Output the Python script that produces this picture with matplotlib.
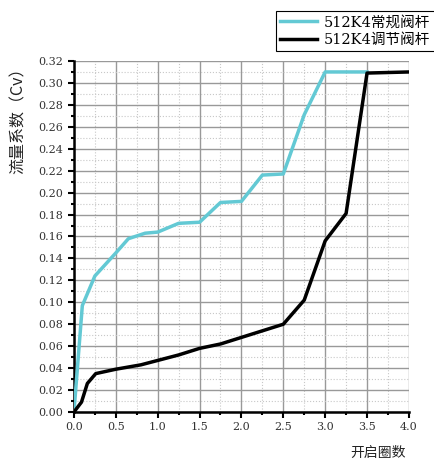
import matplotlib
matplotlib.use("Agg")
import matplotlib.pyplot as plt
from matplotlib.ticker import MultipleLocator, FormatStrFormatter

plt.rcParams['font.family'] = ['DejaVu Serif', 'Noto Sans CJK SC']

x_regular = [0.0, 0.1, 0.25, 0.5, 0.65, 0.85, 1.0, 1.25, 1.5, 1.75, 2.0, 2.25, 2.5, 2.75, 3.0, 3.5]
y_regular = [0.0, 0.097, 0.124, 0.145, 0.158, 0.163, 0.164, 0.172, 0.173, 0.191, 0.192, 0.216, 0.217, 0.271, 0.310, 0.310]

x_adjust = [0.0, 0.09, 0.16, 0.26, 0.5, 0.8, 1.0, 1.25, 1.5, 1.75, 2.0, 2.25, 2.5, 2.75, 3.0, 3.25, 3.5, 4.0]
y_adjust = [0.0, 0.009, 0.026, 0.035, 0.039, 0.043, 0.047, 0.052, 0.058, 0.062, 0.068, 0.074, 0.080, 0.102, 0.156, 0.181, 0.309, 0.310]

label_regular = "512K4常规阀杆"
label_adjust = "512K4调节阀杆"
xlabel = "开启圈数"
ylabel = "流量系数（Cv）"

fig = plt.figure(figsize=(4.35, 4.61), dpi=100)
ax = fig.add_axes([0.170, 0.1063, 0.770, 0.7614])

ax.plot(x_regular, y_regular, color='#63C9D4', lw=2.5, label=label_regular, zorder=3)
ax.plot(x_adjust, y_adjust, color='black', lw=2.5, label=label_adjust, zorder=3)

ax.set_xlim(0, 4.0)
ax.set_ylim(0, 0.32)
ax.xaxis.set_major_locator(MultipleLocator(0.5))
ax.xaxis.set_minor_locator(MultipleLocator(0.25))
ax.yaxis.set_major_locator(MultipleLocator(0.02))
ax.yaxis.set_minor_locator(MultipleLocator(0.01))
ax.xaxis.set_major_formatter(FormatStrFormatter('%.1f'))
ax.yaxis.set_major_formatter(FormatStrFormatter('%.2f'))

ax.grid(which='major', color='#999999', lw=1.0, ls='-')
ax.grid(which='minor', color='#c8c8c8', lw=0.8, ls=':')
ax.set_axisbelow(True)

for s in ['top', 'right']:
    ax.spines[s].set_visible(False)
for s in ['left', 'bottom']:
    ax.spines[s].set_linewidth(1.8)
    ax.spines[s].set_color('black')

ax.tick_params(which='major', direction='out', length=4, width=1.5, labelsize=8, colors='black', labelcolor='#333333')
ax.tick_params(which='minor', direction='out', length=2.5, width=1.5)

fig.text(0.042, 0.747, ylabel, rotation=90, ha='center', va='center', fontsize=11.5,
         family=['Noto Sans CJK SC', 'DejaVu Serif'], color='#222222')
fig.text(0.869, 0.017, xlabel, ha='center', va='center', fontsize=10, transform=fig.transFigure,
         family=['Noto Sans CJK SC'], color='#222222')
fig.texts[-1].set_position((0.869, 1 - 453 / 461))

leg = fig.legend(loc='upper right', bbox_to_anchor=(1.0, 0.976), fancybox=False,
                 edgecolor='black', framealpha=1, handlelength=2.5,
                 borderpad=0.3, labelspacing=0.25, handletextpad=0.5, borderaxespad=0,
                 prop={'family': ['DejaVu Serif', 'Noto Sans CJK SC'], 'size': 10.5})
leg.get_frame().set_linewidth(0.8)

fig.savefig('out.png', dpi=100)
